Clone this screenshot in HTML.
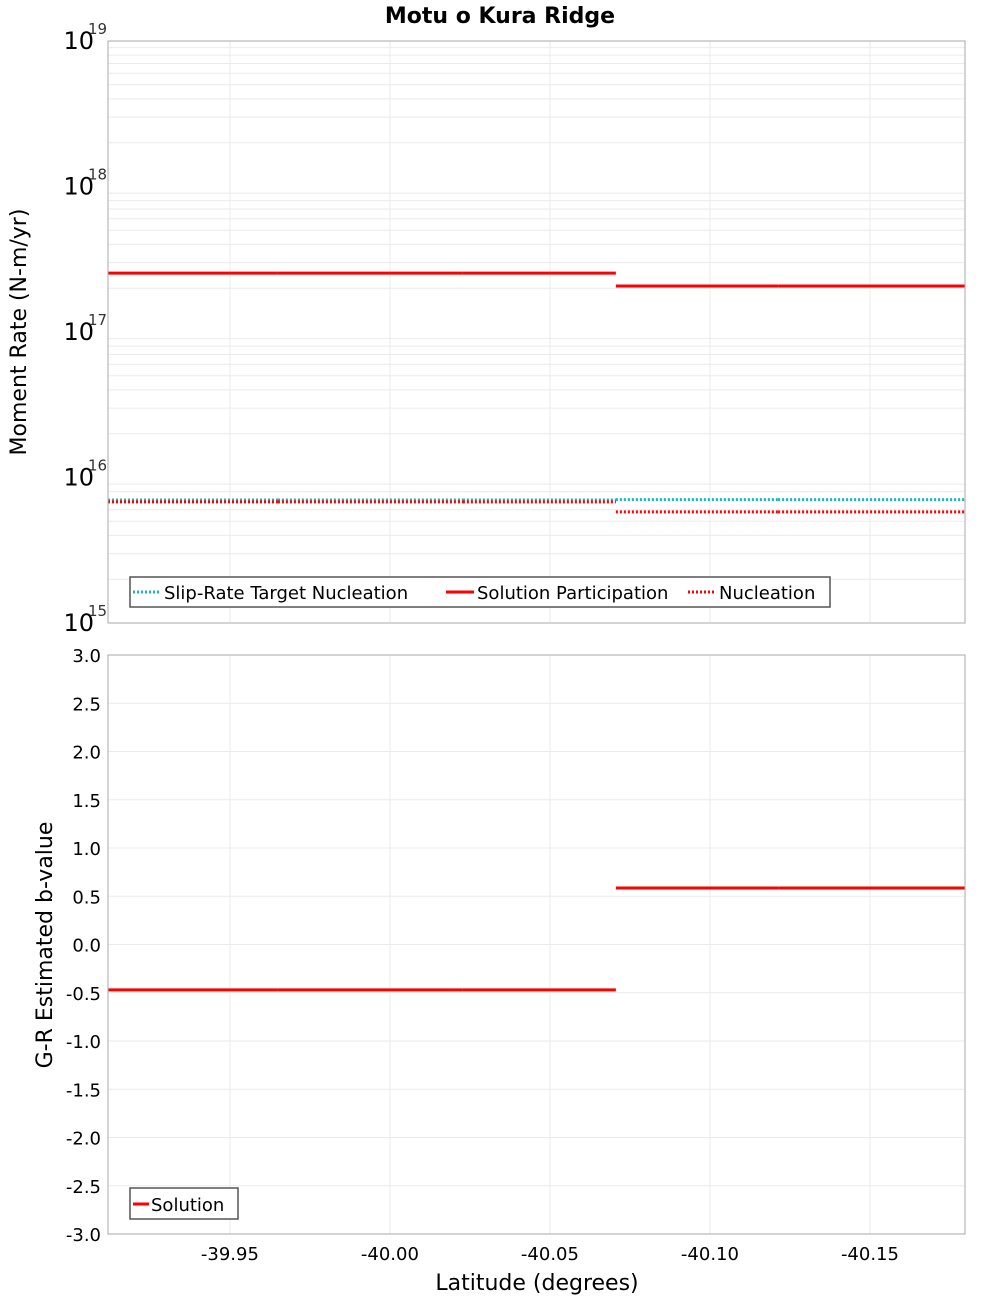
<!DOCTYPE html>
<html><head><meta charset="utf-8"><style>
body{margin:0;background:#fff}
text{font-family:"DejaVu Sans","Liberation Sans",sans-serif}
</style></head><body>
<svg id="c" width="1000" height="1300" xmlns="http://www.w3.org/2000/svg">
<text x="500" y="23" text-anchor="middle" font-size="22" font-weight="bold">Motu o Kura Ridge</text>
<g id="topPanel"></g>
<g id="botPanel"></g>
<text transform="translate(26,332) rotate(-90)" text-anchor="middle" font-size="22">Moment Rate (N-m/yr)</text>
<text transform="translate(52,945) rotate(-90)" text-anchor="middle" font-size="22">G-R Estimated b-value</text>
<text x="537" y="1290" text-anchor="middle" font-size="22">Latitude (degrees)</text>
</svg>
<script>
const xTicks = [-39.95, -40.00, -40.05, -40.10, -40.15];
const xTickLabels = ["-39.95", "-40.00", "-40.05", "-40.10", "-40.15"];
const segBounds1 = [-39.9119, -39.965, -40.0228, -40.0706];
const segBounds2 = [-40.0706, -40.1213, -40.1797];
const participation = [2.54e17, 2.07e17];
const targetNucleation = [7.0e15, 7.05e15];
const nucleation = [6.8e15, 5.8e15];
const bValue = [-0.47, 0.585];
const logDecades = [15, 16, 17, 18, 19];
const bTicks = [-3, -2.5, -2, -1.5, -1, -0.5, 0, 0.5, 1, 1.5, 2, 2.5, 3];

const NS = "http://www.w3.org/2000/svg";
const L = 108, R = 965;
const X0 = -39.9119, X1 = -40.1797;
const x = v => L + (v - X0) / (X1 - X0) * (R - L);
const TT = 41, TB = 623;
const yLog = v => TB - (Math.log10(v) - 15) / 4 * (TB - TT);
const BT = 655, BB = 1234;
const yB = v => BB - (v + 3) / 6 * (BB - BT);

function mk(parent, tag, attrs, text) {
  const e = document.createElementNS(NS, tag);
  for (const k in attrs) e.setAttribute(k, attrs[k]);
  if (text !== undefined) e.textContent = text;
  parent.appendChild(e);
  return e;
}
const topG = document.getElementById('topPanel');
const botG = document.getElementById('botPanel');

for (let d = 15; d < 19; d++) {
  for (let m = 2; m <= 9; m++) {
    const g = mk(topG, 'line', {x1: L, x2: R, y1: yLog(m * Math.pow(10, d)), y2: yLog(m * Math.pow(10, d)), stroke: '#ebebeb', 'stroke-width': 1});
    
    
  }
}
xTicks.forEach(t => {
  const g = mk(topG, 'line', {x1: x(t), x2: x(t), y1: TT, y2: TB, stroke: '#ebebeb'});
  
  
  const g2 = mk(botG, 'line', {x1: x(t), x2: x(t), y1: BT, y2: BB, stroke: '#ebebeb'});
  
  
});
logDecades.forEach(d => {
  const t = mk(topG, 'text', {x: 94, y: yLog(Math.pow(10, d)) + 8, 'text-anchor': 'end', 'font-size': 24}, '10');
  
  
  const s = mk(topG, 'text', {x: 88, y: yLog(Math.pow(10, d)) - 7, 'font-size': 15, fill: '#333'}, String(d));
  
  
});
bTicks.forEach(v => {
  const g = mk(botG, 'line', {x1: L, x2: R, y1: yB(v), y2: yB(v), stroke: '#ebebeb'});
  
  
  const t = mk(botG, 'text', {x: 101, y: yB(v) + 7, 'text-anchor': 'end', 'font-size': 18}, v.toFixed(1));
  
  
});
xTicks.forEach((t, i) => {
  const l = mk(botG, 'text', {x: x(t), y: 1260, 'text-anchor': 'middle', 'font-size': 18}, xTickLabels[i]);
  
  
});

function seg(parent, bounds, yv, color, dash, name) {
  for (let i = 0; i < bounds.length - 1; i++) {
    const a = {x1: x(bounds[i]), x2: x(bounds[i + 1]), y1: yv, y2: yv, stroke: color, 'stroke-width': 3};
    if (dash) a['stroke-dasharray'] = '2,2';
    const e = mk(parent, 'line', a);
    
    
  }
}
seg(topG, segBounds1, yLog(targetNucleation[0]), '#1fb5b5', true, 'target-nucleation-line');
seg(topG, segBounds2, yLog(targetNucleation[1]), '#1fb5b5', true, 'target-nucleation-line');
seg(topG, segBounds1, yLog(nucleation[0]), '#ff0000', true, 'nucleation-line');
seg(topG, segBounds2, yLog(nucleation[1]), '#ff0000', true, 'nucleation-line');
seg(topG, segBounds1, yLog(participation[0]), '#ff0000', false, 'participation-line');
seg(topG, segBounds2, yLog(participation[1]), '#ff0000', false, 'participation-line');
seg(botG, segBounds1, yB(bValue[0]), '#ff0000', false, 'b-value-line');
seg(botG, segBounds2, yB(bValue[1]), '#ff0000', false, 'b-value-line');

let f = mk(topG, 'rect', {x: L, y: TT, width: R - L, height: TB - TT, fill: 'none', stroke: '#aaa'});


f = mk(botG, 'rect', {x: L, y: BT, width: R - L, height: BB - BT, fill: 'none', stroke: '#aaa'});



let lg = mk(topG, 'g', {});


mk(lg, 'rect', {x: 130, y: 577, width: 700, height: 30, fill: '#fff', stroke: '#555', 'stroke-width': 1.5});
const items = [
  {x: 133, c: '#1fb5b5', d: true, t: 'Slip-Rate Target Nucleation'},
  {x: 446, c: '#ff0000', d: false, t: 'Solution Participation'},
  {x: 688, c: '#ff0000', d: true, t: 'Nucleation'}
];
items.forEach(it => {
  const e = mk(lg, 'g', {});
  
  
  const a = {x1: it.x, x2: it.x + 28, y1: 592, y2: 592, stroke: it.c, 'stroke-width': 3};
  if (it.d) a['stroke-dasharray'] = '2,2';
  mk(e, 'line', a);
  mk(e, 'text', {x: it.x + 31, y: 599, 'font-size': 18}, it.t);
});
lg = mk(botG, 'g', {});


mk(lg, 'rect', {x: 130, y: 1188, width: 108, height: 31, fill: '#fff', stroke: '#555', 'stroke-width': 1.5});
mk(lg, 'line', {x1: 133, x2: 149, y1: 1204, y2: 1204, stroke: '#ff0000', 'stroke-width': 3});
mk(lg, 'text', {x: 151, y: 1211, 'font-size': 18}, 'Solution');
</script>
</body></html>
